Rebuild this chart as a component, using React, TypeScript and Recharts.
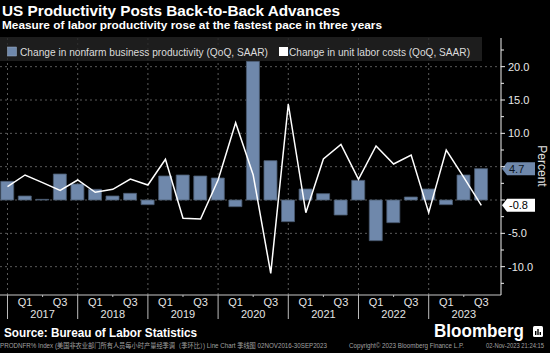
import React from 'react';
import {
  ComposedChart,
  Bar,
  Line,
  XAxis,
  YAxis,
  CartesianGrid,
  ReferenceLine,
} from 'recharts';

// quarterly points, 2016 Q4 .. 2023 Q3
const quarters = [
  '2016 Q4',
  '2017 Q1', '2017 Q2', '2017 Q3', '2017 Q4',
  '2018 Q1', '2018 Q2', '2018 Q3', '2018 Q4',
  '2019 Q1', '2019 Q2', '2019 Q3', '2019 Q4',
  '2020 Q1', '2020 Q2', '2020 Q3', '2020 Q4',
  '2021 Q1', '2021 Q2', '2021 Q3', '2021 Q4',
  '2022 Q1', '2022 Q2', '2022 Q3', '2022 Q4',
  '2023 Q1', '2023 Q2', '2023 Q3',
];
const productivity = [
  2.8, 0.6, 0.1, 3.9, 2.4, 1.6, 0.6, 1.0, -0.7, 3.6, 3.75, 3.6, 3.3, -1.0,
  20.8, 5.9, -3.25, 1.65, 0.95, -2.25, 2.95, -6.1, -3.4, 0.45, 1.65, -0.7, 3.75, 4.7,
];
const unitLaborCosts = [
  2.0, 3.75, 2.6, 1.45, 3.0, 1.15, 1.6, 3.15, 2.25, 6.1, -2.75, -2.85, 3.0, 11.6,
  3.75, -11.0, 14.4, -1.9, 6.15, 8.35, 3.1, 8.1, 5.4, 6.75, -1.9, 7.5, 3.4, -0.8,
];
const years = ['2017', '2018', '2019', '2020', '2021', '2022', '2023'];
const quarterLabels = ['', 'Q1', '', 'Q3'];
const yMajorTicks = [-10, -5, 0, 5, 10, 15, 20];
const yAllTicks = [-12.5, -10, -7.5, -5, -2.5, 0, 2.5, 5, 7.5, 10, 12.5, 15, 17.5, 20, 22.5];

const data = quarters.map((q, i) => ({
  i,
  quarter: q,
  productivity: productivity[i],
  ulc: unitLaborCosts[i],
}));
const xTicks = quarters.map((_, i) => i).concat([quarters.length]);
const yearBounds = xTicks.filter((i) => i % 4 === 0 && i < quarters.length);

const lastProd = productivity[productivity.length - 1];
const lastUlc = unitLaborCosts[unitLaborCosts.length - 1];

const BAR = '#6f88ab';
const FONT = '"Liberation Sans", Arial, sans-serif';

const XTick = (props: any) => {
  const { x, y, payload } = props;
  const i = payload.value as number;
  const q = i % 4;
  if (i >= quarters.length) return <g />;
  if (q === 0) {
    return <line x1={x} x2={x} y1={y} y2={y + 24} stroke="#bdbdbd" strokeWidth={1} />;
  }
  if (q === 2) {
    return (
      <g>
        <line x1={x} x2={x} y1={y} y2={y + 2} stroke="#bdbdbd" />
        <text x={x} y={y + 23} textAnchor="middle" fill="#e4e4e4" fontSize={11} fontFamily={FONT}>
          {years[Math.floor(i / 4)]}
        </text>
      </g>
    );
  }
  return (
    <text x={x} y={y + 11} textAnchor="middle" fill="#e4e4e4" fontSize={11} fontFamily={FONT}>
      {quarterLabels[q]}
    </text>
  );
};

const YTick = (props: any) => {
  const { x, y, payload } = props;
  const v = payload.value as number;
  const major = v % 5 === 0;
  const hidden = Math.abs(v - lastProd) < 1.5 || Math.abs(v - lastUlc) < 1.5;
  return (
    <g>
      <line x1={x} x2={x + (major ? 4 : 3)} y1={y} y2={y} stroke="#f0f0f0" />
      {major && !hidden && (
        <text x={x + 7} y={y + 4} fill="#e8e8e8" fontSize={11} fontFamily={FONT}>
          {v.toFixed(1)}
        </text>
      )}
    </g>
  );
};

const badge = (value: number, fill: string, color: string) => (props: any) => {
  const vb = props.viewBox || {};
  const x = vb.x + vb.width;
  const y = vb.y;
  return (
    <g>
      <path
        d={`M${x + 1},${y} L${x + 6},${y - 6.5} L${x + 34},${y - 6.5} L${x + 34},${y + 6.5} L${x + 6},${y + 6.5} Z`}
        fill={fill}
      />
      <text x={x + 8} y={y + 4} fill={color} fontSize={11} fontFamily={FONT}>
        {value.toFixed(1)}
      </text>
    </g>
  );
};

export default function App() {
  return (
    <div
      style={{
        position: 'fixed',
        left: 0,
        top: 0,
        width: 550,
        height: 353,
        background: '#000',
        overflow: 'hidden',
      }}
    >
      <ComposedChart
        width={550}
        height={353}
        data={data}
        margin={{ top: 38, right: 9, bottom: 28, left: 0 }}
      >
        <CartesianGrid
          stroke="#5a5a5a"
          strokeDasharray="2 3"
          horizontalValues={yMajorTicks}
          verticalValues={yearBounds}
        />
        <XAxis
          dataKey="i"
          type="number"
          domain={[-0.427, 28.12]}
          allowDataOverflow
          ticks={xTicks}
          interval={0}
          tick={<XTick />}
          tickLine={false}
          tickSize={0}
          tickMargin={0}
          height={30}
          axisLine={{ stroke: '#c8c8c8' }}
        />
        <YAxis
          orientation="right"
          type="number"
          domain={[-14.25, 24.3]}
          allowDataOverflow
          ticks={yAllTicks}
          interval={0}
          tick={<YTick />}
          tickLine={false}
          tickSize={0}
          tickMargin={0}
          width={40}
          axisLine={{ stroke: '#f0f0f0' }}
        />
        <Bar
          dataKey="productivity"
          fill={BAR}
          stroke="#4a5a70"
          strokeWidth={0.8}
          barSize={13}
          isAnimationActive={false}
        />
        <Line
          dataKey="ulc"
          type="linear"
          stroke="#ffffff"
          strokeWidth={1.5}
          dot={false}
          isAnimationActive={false}
        />
        <ReferenceLine y={lastProd} stroke="none" label={badge(lastProd, BAR, '#0c1420')} />
        <ReferenceLine y={lastUlc} stroke="none" label={badge(lastUlc, '#ffffff', '#000000')} />
      </ComposedChart>

      <svg
        width={550}
        height={353}
        style={{ position: 'absolute', left: 0, top: 0, pointerEvents: 'none' }}
      >
        <text x={2} y={16} fill="#ffffff" fontSize={14} fontWeight="bold" fontFamily={FONT}
          textLength={338} lengthAdjust="spacingAndGlyphs">
          US Productivity Posts Back-to-Back Advances
        </text>
        <text x={2} y={29} fill="#ffffff" fontSize={10} fontWeight="bold" fontFamily={FONT}
          textLength={380} lengthAdjust="spacingAndGlyphs">
          Measure of labor productivity rose at the fastest pace in three years
        </text>

        <rect x={0} y={37} width={482} height={24} fill="#242424" fillOpacity={0.8} />
        <rect x={7.5} y={47} width={9} height={9} fill={BAR} stroke="#9fb1c9" strokeWidth={0.5} />
        <text x={20} y={55.5} fill="#dcdcdc" fontSize={10.5} fontFamily={FONT}
          textLength={248} lengthAdjust="spacingAndGlyphs">
          Change in nonfarm business productivity (QoQ, SAAR)
        </text>
        <rect x={279} y={47} width={9} height={9} fill="#ffffff" />
        <text x={289} y={55.5} fill="#dcdcdc" fontSize={10.5} fontFamily={FONT}
          textLength={181} lengthAdjust="spacingAndGlyphs">
          Change in unit labor costs (QoQ, SAAR)
        </text>

        <text x={542} y={166} fill="#e0e0e0" fontSize={12} fontFamily={FONT}
          textAnchor="middle" dominantBaseline="central" transform="rotate(90 542 166)">
          Percent
        </text>

        <text x={4} y={337} fill="#ffffff" fontSize={12} fontWeight="bold" fontFamily={FONT}
          textLength={193} lengthAdjust="spacingAndGlyphs">
          Source: Bureau of Labor Statistics
        </text>
        <text x={434} y={337} fill="#ffffff" fontSize={19} fontWeight="bold" fontFamily={FONT}
          textLength={90} lengthAdjust="spacingAndGlyphs">
          Bloomberg
        </text>
        <rect x={533} y={326} width={10} height={11} rx={1.5} fill="#ffffff" />
        <rect x={535} y={331} width={1.4} height={4} fill="#000" />
        <rect x={537.3} y={329} width={1.4} height={6} fill="#000" />
        <rect x={539.6} y={332} width={1.4} height={3} fill="#000" />

        <text x={0} y={348} fill="#a0a0a0" fontSize={6.5}
          fontFamily='"Liberation Sans", "Noto Sans CJK SC", sans-serif'
          textLength={327} lengthAdjust="spacingAndGlyphs">
          PRODNFR% Index (美国非农业部门所有人员每小时产量经季调（季环比）) Line Chart  季线图 02NOV2016-30SEP2023
        </text>
        <text x={349} y={348} fill="#a0a0a0" fontSize={6.5} fontFamily={FONT}
          textLength={115} lengthAdjust="spacingAndGlyphs">
          Copyright© 2023 Bloomberg Finance L.P.
        </text>
        <text x={486} y={348} fill="#a0a0a0" fontSize={6.5} fontFamily={FONT}
          textLength={58} lengthAdjust="spacingAndGlyphs">
          02-Nov-2023 21:24:15
        </text>
      </svg>
    </div>
  );
}
